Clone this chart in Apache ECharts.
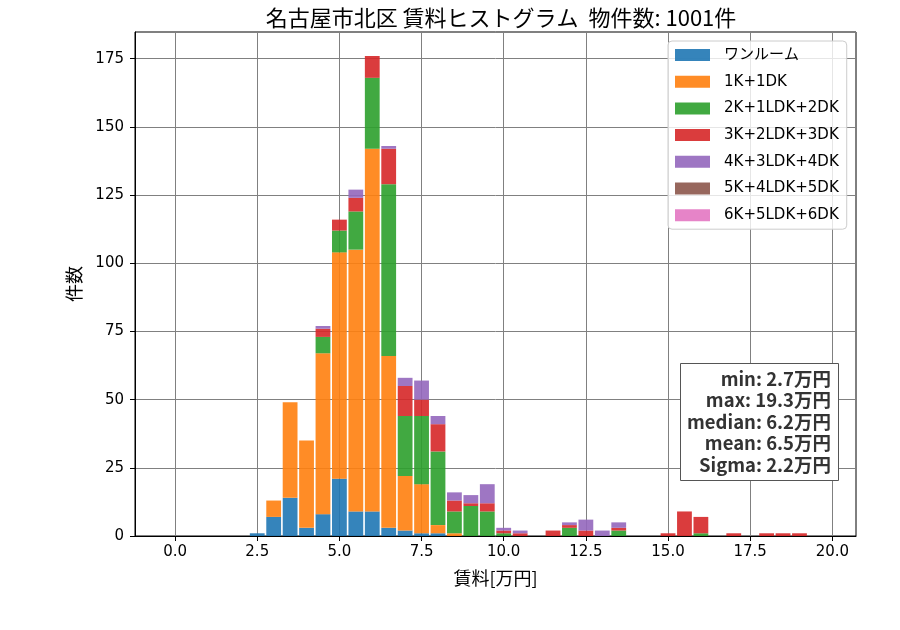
<!DOCTYPE html>
<html>
<head>
<meta charset="utf-8">
<script src="https://cdn.jsdelivr.net/npm/echarts@6/dist/echarts.min.js"></script>
<style>
html,body{margin:0;padding:0;background:#fff;}
#chart{width:900px;height:630px;}
</style>
</head>
<body>
<div id="chart"></div>
<script>
// Bin centers (万円)
const binCenters = [2.5,3.0,3.5,4.0,4.5,5.0,5.5,6.0,6.5,7.0,7.5,8.0,8.5,9.0,9.5,10.0,10.5,11.0,11.5,12.0,12.5,13.0,13.5,14.0,14.5,15.0,15.5,16.0,16.5,17.0,17.5,18.0,18.5,19.0];
const seriesNames = ['ワンルーム','1K+1DK','2K+1LDK+2DK','3K+2LDK+3DK','4K+3LDK+4DK','5K+4LDK+5DK','6K+5LDK+6DK'];
const oneRoom = [1,7,14,3,8,21,9,9,3,2,1,1,0,0,0,0,0,0,0,0,0,0,0,0,0,0,0,0,0,0,0,0,0,0];
const k1     = [0,6,35,32,59,83,96,133,63,20,18,3,1,0,0,0,0,0,0,0,0,0,0,0,0,0,0,0,0,0,0,0,0,0];
const k2     = [0,0,0,0,6,8,14,26,63,22,25,27,8,11,9,1,0,0,0,3,0,0,2,0,0,0,0,1,0,0,0,0,0,0];
const k3     = [0,0,0,0,3,4,5,8,13,11,6,10,4,1,3,1,1,0,2,1,2,0,1,0,0,1,9,6,0,1,0,1,1,1];
const k4     = [0,0,0,0,1,0,3,0,1,3,7,3,3,3,7,1,1,0,0,1,4,2,2,0,0,0,0,0,0,0,0,0,0,0];
const k5     = [0,0,0,0,0,0,0,0,0,0,0,0,0,0,0,0,0,0,0,0,0,0,0,0,0,0,0,0,0,0,0,0,0,0];
const k6     = [0,0,0,0,0,0,0,0,0,0,0,0,0,0,0,0,0,0,0,0,0,0,0,0,0,0,0,0,0,0,0,0,0,0];
const xTicks = [0,2.5,5,7.5,10,12.5,15,17.5,20];
const statLabels = ['min','max','median','mean','Sigma'];
const statValues = [2.7,19.3,6.2,6.5,2.2];
const totalCount = 1001;

const colors = ['rgba(31,119,180,0.9)','rgba(255,127,14,0.9)','rgba(44,160,44,0.9)','rgba(214,39,40,0.9)','rgba(148,103,189,0.9)','rgba(140,86,75,0.9)','rgba(227,119,194,0.9)'];
const allData = [oneRoom,k1,k2,k3,k4,k5,k6];

const latinFont = "'DejaVu Sans', 'Noto Sans CJK JP', sans-serif";
const cjkFont = "'Noto Sans CJK JP', sans-serif";

// data rows are [count, binCenter]; encode maps them so that the count (y) is the stacked dimension
const series = allData.map((arr, si) => ({
  name: seriesNames[si],
  type: 'bar',
  stack: 'total',
  barWidth: 14.8,
  encode: { x: 1, y: 0 },
  itemStyle: { color: colors[si] },
  emphasis: { disabled: true },
  data: binCenters.map((c, i) => [arr[i], c])
}));

const statsText = statLabels.map((l, i) => l + ': ' + statValues[i].toFixed(1) + '万円').join('\n');

const chart = echarts.init(document.getElementById('chart'), null, { renderer: 'canvas' });
chart.setOption({
  animation: false,
  backgroundColor: '#ffffff',
  color: colors,
  title: [{
    text: '名古屋市北区 賃料ヒストグラム  物件数: ' + totalCount + '件',
    left: 496,
    top: 2,
    textAlign: 'center',
    textStyle: { fontFamily: cjkFont, fontSize: 22, fontWeight: 'normal', color: '#000' }
  }, {
    text: statsText,
    left: 824,
    top: 363,
    textAlign: 'right',
    backgroundColor: '#ffffff',
    borderColor: '#555555',
    borderWidth: 1,
    padding: [5, 8, 5, 7],
    z: 10,
    textStyle: { fontFamily: cjkFont, fontSize: 18.5, fontWeight: 'bold', color: '#333333', lineHeight: 21.5, align: 'right' }
  }],
  grid: {
    left: 135, right: 44, top: 32, bottom: 94,
    show: true, borderColor: '#000', borderWidth: 1, backgroundColor: 'transparent'
  },
  legend: {
    orient: 'vertical',
    left: 668, top: 41,
    padding: [6, 8, 6, 7],
    itemWidth: 35, itemHeight: 12, itemGap: 10.7,
    icon: 'rect',
    backgroundColor: 'rgba(255,255,255,0.8)',
    borderColor: '#cccccc', borderWidth: 1, borderRadius: 4,
    textStyle: { fontFamily: latinFont, fontSize: 15, color: '#000', lineHeight: 16, padding: [0, 0, 0, 9] },
    data: seriesNames
  },
  xAxis: {
    type: 'value',
    min: -1.22, max: 20.72,
    name: '賃料[万円]',
    nameLocation: 'middle',
    nameGap: 33,
    nameTextStyle: { fontFamily: cjkFont, fontSize: 18, color: '#000' },
    axisLine: { show: true, onZero: false, lineStyle: { color: '#000', width: 1 } },
    axisTick: { show: true, length: 5, lineStyle: { color: '#000' }, customValues: xTicks },
    axisLabel: { customValues: xTicks, formatter: v => Number(v).toFixed(1), fontFamily: latinFont, fontSize: 15, color: '#000', margin: 9 },
    splitLine: { show: true, lineStyle: { color: '#808080', width: 1 } }
  },
  yAxis: {
    type: 'value',
    min: 0, max: 184.8, interval: 25,
    name: '件数',
    nameLocation: 'middle',
    nameGap: 52,
    nameTextStyle: { fontFamily: cjkFont, fontSize: 18, color: '#000' },
    axisLine: { show: true, onZero: false, lineStyle: { color: '#000', width: 1 } },
    axisTick: { show: true, length: 5, lineStyle: { color: '#000' } },
    axisLabel: { fontFamily: latinFont, fontSize: 15, color: '#000', margin: 11, showMaxLabel: false },
    splitLine: { show: true, lineStyle: { color: '#808080', width: 1 } }
  },
  series: series
});
</script>
</body>
</html>
